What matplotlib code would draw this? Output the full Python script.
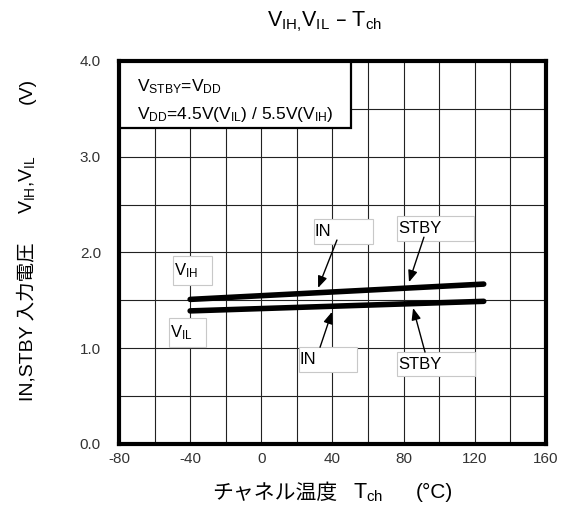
import matplotlib
matplotlib.use("Agg")
import matplotlib.pyplot as plt
from matplotlib.patches import Rectangle

# Input threshold voltage vs. channel temperature
plt.rcParams["font.family"] = ["Liberation Sans", "Noto Sans CJK JP"]
plt.rcParams["mathtext.default"] = "regular"

tch = [-40, 125]
vih = [1.51, 1.67]
vil = [1.39, 1.49]

xticks = [-80, -40, 0, 40, 80, 120, 160]
yticks = [0.0, 1.0, 2.0, 3.0, 4.0]

fig = plt.figure(figsize=(5.74, 5.07), dpi=100)
ax = fig.add_axes([0.2073, 0.1243, 0.7439, 0.7554])

ax.set_xlim(-80, 160)
ax.set_ylim(0, 4)
ax.set_xticks(xticks)
ax.set_xticklabels([str(t) for t in xticks])
ax.set_yticks(yticks)
ax.set_yticklabels(["%.1f" % t for t in yticks])
ax.set_xticks(range(-80, 161, 20), minor=True)
ax.set_yticks([i * 0.5 for i in range(9)], minor=True)
ax.tick_params(which="both", length=0)
ax.tick_params(axis="x", pad=6, labelsize=11, labelcolor="#333333")
ax.tick_params(axis="y", pad=13, labelsize=11, labelcolor="#333333")
ax.grid(which="both", color="#222222", linewidth=0.8)
ax.set_axisbelow(True)
for s in ax.spines.values():
    s.set_linewidth(3)

ax.plot(tch, vih, color="black", lw=4, solid_capstyle="round", zorder=3)
ax.plot(tch, vil, color="black", lw=4, solid_capstyle="round", zorder=3)

# condition box, upper left
ax.add_patch(Rectangle((-80, 3.30), 130.4, 0.70, facecolor="white",
                       edgecolor="black", lw=1.6, zorder=2.4))
ax.text(-70, 3.73, "$V_{STBY}$=$V_{DD}$", fontsize=12.5, va="center", zorder=5)
ax.text(-70, 3.44, "$V_{DD}$=4.5V($V_{IL}$) / 5.5V($V_{IH}$)", fontsize=12.5,
        va="center", zorder=5)


def label_box(x0, x1, y0, y1, s):
    ax.add_patch(Rectangle((x0, y0), x1 - x0, y1 - y0, facecolor="white",
                           edgecolor="#c8c8c8", lw=0.8, zorder=4))
    ax.text(x0 + 0.5, (y0 + y1) / 2, s, fontsize=12, va="center", ha="left", zorder=5)


label_box(29.6, 62.8, 2.09, 2.35, "IN")
label_box(76.3, 119.6, 2.12, 2.38, "STBY")
label_box(21.2, 53.8, 0.75, 1.01, "IN")
label_box(76.3, 120.1, 0.71, 0.96, "STBY")
label_box(-49.6, -27.7, 1.66, 1.96, "$V_{IH}$")
label_box(-51.9, -31.1, 1.01, 1.32, "$V_{IL}$")

arrows = [((42.5, 2.13), (31.9, 1.63)),
          ((91.4, 2.16), (83.0, 1.69)),
          ((33.0, 1.01), (39.7, 1.38)),
          ((92.0, 0.96), (85.3, 1.42))]
for tail, head in arrows:
    ax.annotate("", xy=head, xytext=tail,
                arrowprops=dict(arrowstyle="-|>,head_length=0.5,head_width=0.2",
                                color="black", lw=1.0,
                                mutation_scale=14, shrinkA=0, shrinkB=0),
                zorder=6)

fig.text(0.566, 0.958, "$V_{IH{,}}V_{IL}$ – $T_{ch}$", fontsize=15.5,
         ha="center", va="center")

# axis labels built from pieces so the CJK part keeps its font fallback
fig.text(0.478, 0.028, "チャネル温度", fontsize=15, ha="center", va="center")
fig.text(0.641, 0.028, "$T_{ch}$", fontsize=15.5, ha="center", va="center")
fig.text(0.756, 0.028, "(°C)", fontsize=15, ha="center", va="center")

fig.text(0.047, 0.365, "IN,STBY 入力電圧", fontsize=14, rotation=90, ha="center", va="center")
fig.text(0.047, 0.635, "$V_{IH}{,}V_{IL}$", fontsize=14, rotation=90, ha="center", va="center")
fig.text(0.047, 0.820, "(V)", fontsize=14, rotation=90, ha="center", va="center")

fig.savefig("out.png", dpi=100)
